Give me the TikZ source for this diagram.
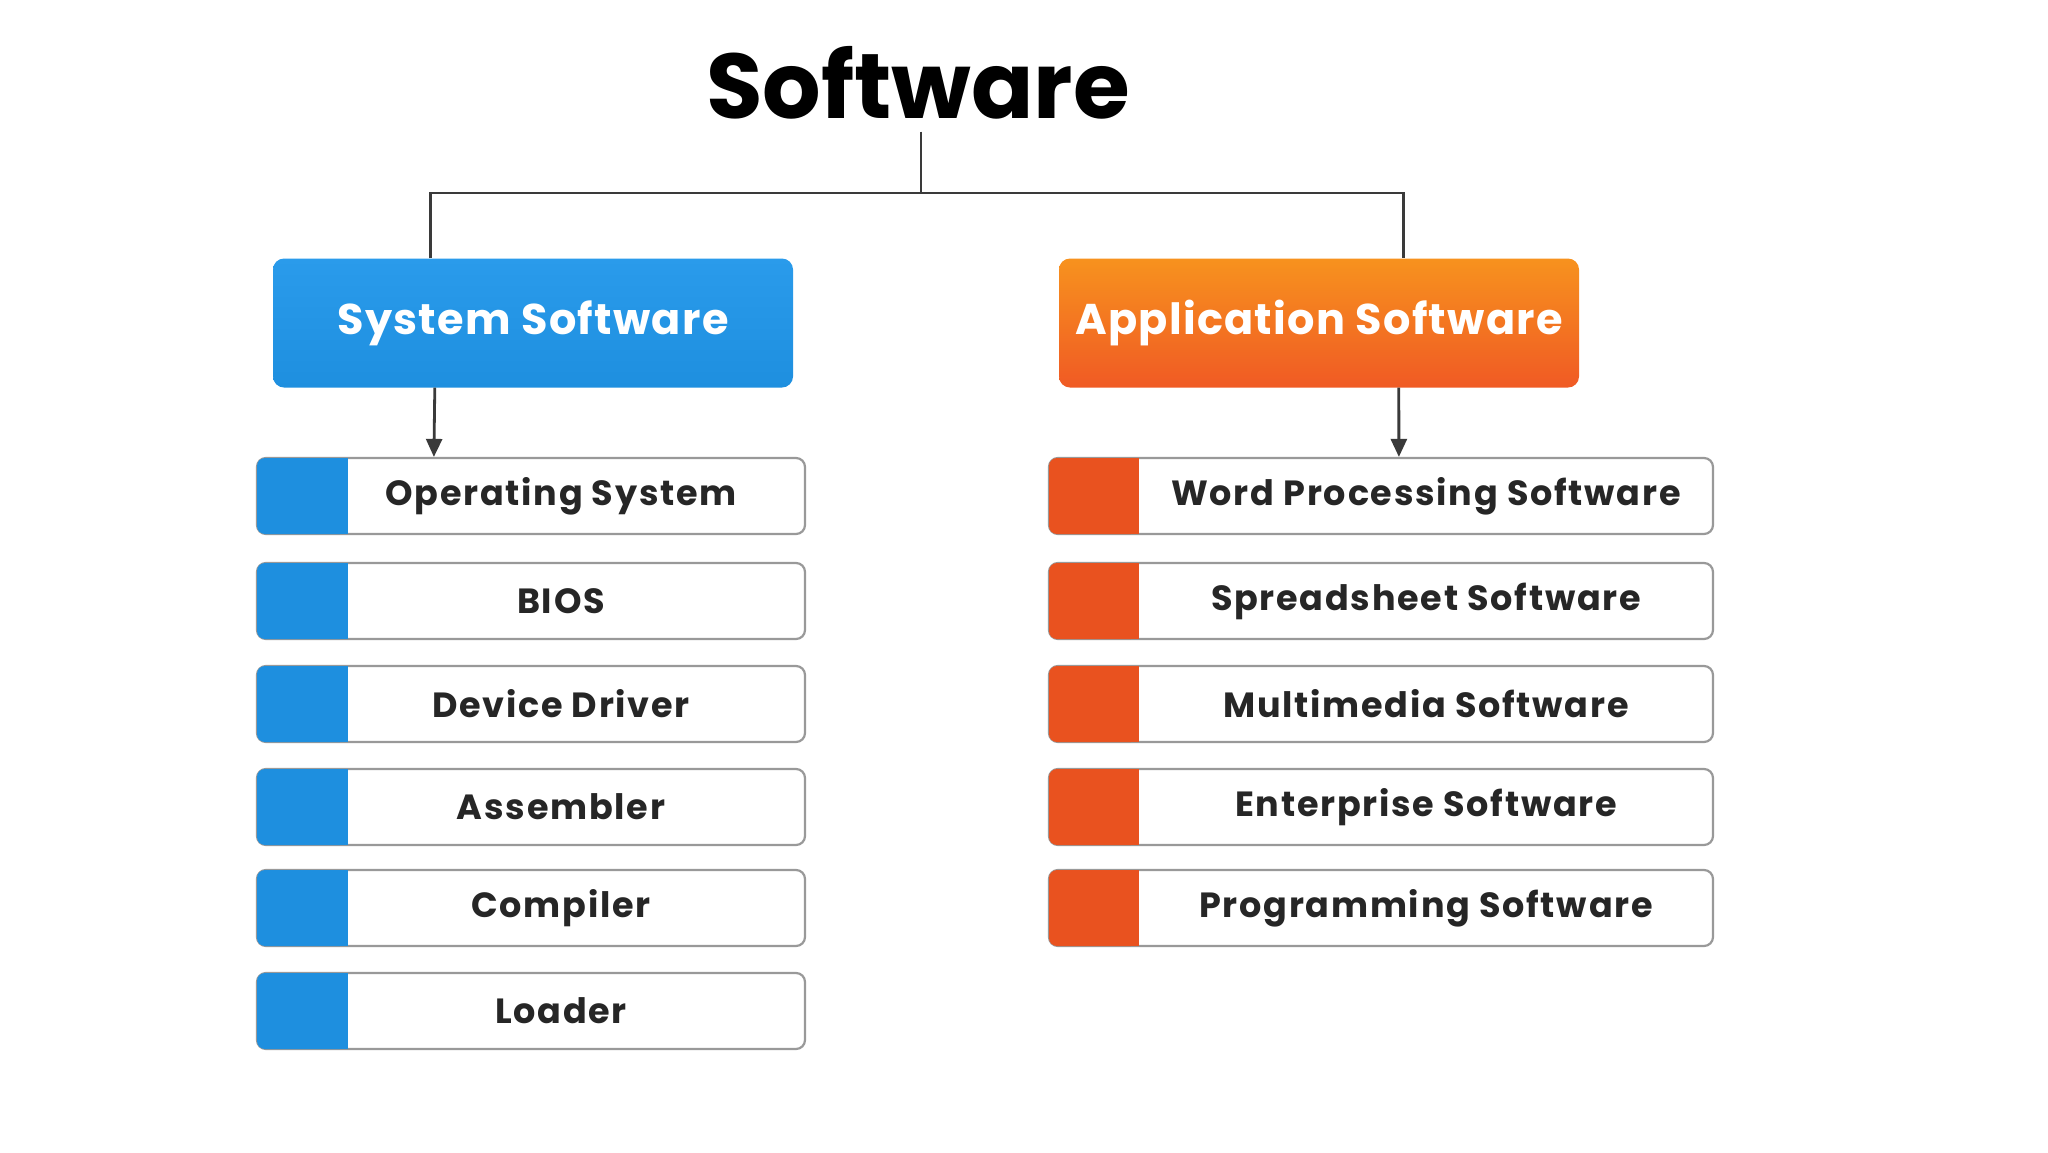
\documentclass[tikz,border=0pt]{standalone}
\usepackage{fontspec}
\setmainfont{Poppins}
\usetikzlibrary{arrows.meta,calc}
\definecolor{sysblue}{HTML}{1E8FDF}
\definecolor{sysbluetop}{HTML}{2A9BEB}
\definecolor{apptop}{HTML}{F7921E}
\definecolor{appbot}{HTML}{F05A24}
\definecolor{sqred}{HTML}{E9521F}
\definecolor{itemborder}{HTML}{999999}
\definecolor{linegray}{HTML}{3A3A3A}
\definecolor{itemtext}{HTML}{262626}
\begin{document}
\begin{tikzpicture}[x=1pt,y=-1pt,
  conn/.style={draw=linegray,line width=2.8pt},
  catbox/.style={rounded corners=11pt,minimum width=520pt,minimum height=129pt,inner sep=0pt,text=white,font=\fontsize{43}{50}\selectfont\bfseries\addfontfeatures{LetterSpace=3}},
  itembox/.style={draw=itemborder,line width=2.2pt,rounded corners=9pt,fill=white,minimum height=76pt,inner sep=0pt},
  itemlabel/.style={text=itemtext,inner sep=0pt,font=\fontsize{35}{42}\selectfont\bfseries\addfontfeatures{LetterSpace=5}},
  tip/.style={-{Triangle[length=18pt,width=16pt]}}
]
\useasboundingbox (0,0) rectangle (2048,1152);
\fill[white] (0,0) rectangle (2048,1152);

% title
\node[anchor=base,inner sep=0pt,outer sep=13pt,font=\fontsize{92}{100}\selectfont\bfseries] (title) at (918,118) {Software};

% category boxes
\node[catbox,top color=sysbluetop,bottom color=sysblue] (sys) at (533,323) {System Software};
\node[catbox,top color=apptop,bottom color=appbot] (app) at (1319,323) {Application Software};

% tree connectors
\coordinate (j) at (921,193);
\draw[conn] (j |- title.south) -- (j);
\draw[conn] ($(sys.north west)+(158,0)$) |- (j) -| ($(app.north west)+(345,0)$);

% left items
\foreach \i/\y/\t in {1/496/Operating System,2/601/BIOS,3/704/Device Driver,4/807/Assembler,5/908/Compiler,6/1011/Loader}{
  \node[itembox,minimum width=548pt] (s\i) at (531,\y) {};
  \fill[sysblue,rounded corners=8pt] ($(s\i.north west)+(1.1,1.1)$) rectangle ($(s\i.south west)+(92,-1.1)$);
  \fill[sysblue] ($(s\i.north west)+(40,1.1)$) rectangle ($(s\i.south west)+(92,-1.1)$);
  \node[itemlabel] (s\i t) at (561,\y) {\t};
}

% right items
\foreach \i/\y/\t in {1/496/Word Processing Software,2/601/Spreadsheet Software,3/704/Multimedia Software,4/807/Enterprise Software,5/908/Programming Software}{
  \node[itembox,minimum width=664pt] (a\i) at (1381,\y) {};
  \fill[sqred,rounded corners=8pt] ($(a\i.north west)+(1.1,1.1)$) rectangle ($(a\i.south west)+(91,-1.1)$);
  \fill[sqred] ($(a\i.north west)+(40,1.1)$) rectangle ($(a\i.south west)+(91,-1.1)$);
  \node[itemlabel] (a\i t) at (1426,\y) {\t};
}

% arrows
\draw[conn,tip] ($(sys.south west)+(162,0)$) -- ($(s1.north west)+(178,0)$);
\draw[conn,tip] ($(app.south west)+(340,0)$) -- ($(a1.north west)+(351,0)$);
\end{tikzpicture}
\end{document}
